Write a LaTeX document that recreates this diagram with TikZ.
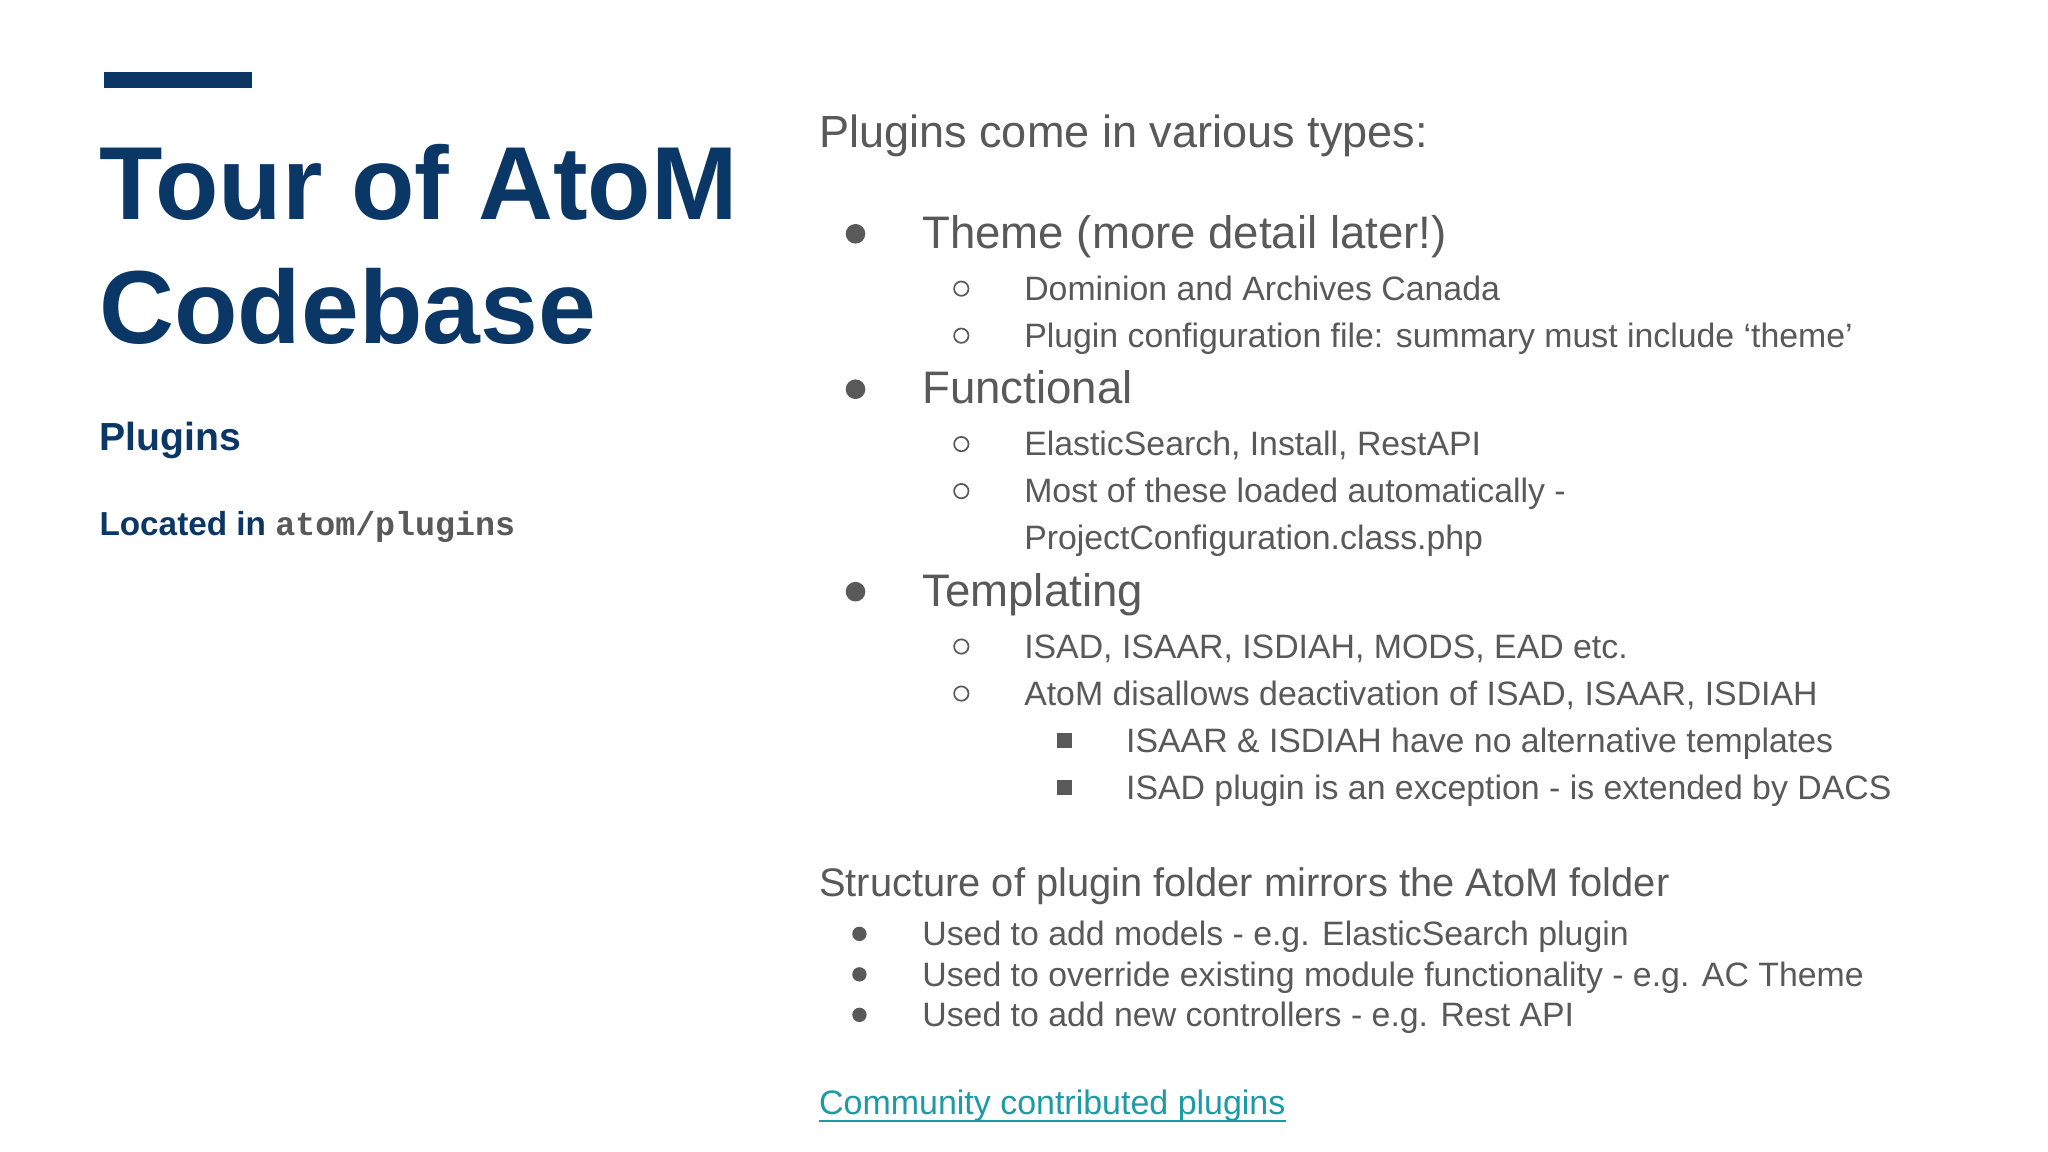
\documentclass[tikz,border=0pt]{standalone}
\usepackage{fontspec}
\setmainfont{Liberation Sans}
\setmonofont{Liberation Mono}
\definecolor{navy}{HTML}{0B3766}
\definecolor{txt}{HTML}{595959}
\definecolor{lnk}{HTML}{1A9BA6}
\begin{document}
\begin{tikzpicture}[x=1pt,y=-1pt,
  t/.style={anchor=base west,inner sep=0,text=txt},
  big/.style={t,font=\fontsize{34.9}{36}\selectfont},
  mid/.style={t,font=\fontsize{30.5}{32}\selectfont},
  sml/.style={t,font=\fontsize{25.9}{28}\selectfont},
  dotb/.style={fill=txt,draw=none},
  ring/.style={draw=txt,line width=1.3pt}]
\useasboundingbox (0,0) rectangle (1568,882);
\fill[white] (0,0) rectangle (1568,882);
\fill[navy] (80,55) rectangle (193,67);
\node[anchor=base west,inner sep=0,text=navy,font=\fontsize{79.5}{90}\bfseries\selectfont] (t1) at (76,168) {Tour of AtoM};
\node[anchor=base west,inner sep=0,text=navy,font=\fontsize{79.5}{90}\bfseries\selectfont] (t2) at (76,263) {Codebase};
\node[anchor=base west,inner sep=0,text=navy,font=\fontsize{30}{30}\bfseries\selectfont] (pl) at (76,345) {Plugins};
\node[anchor=base west,inner sep=0,text=navy,font=\fontsize{25.5}{26}\bfseries\selectfont] (loc) at (76,410) {Located in \textcolor{txt}{\ttfamily\bfseries atom/plugins}};
\node[t,font=\fontsize{34.5}{36}\selectfont] (h1) at (627,113) {Plugins come in various types:};
\node[big] (a) at (706,190) {Theme (more detail later!)};
\node[sml] (a1) at (784,230) {Dominion and Archives Canada};
\node[sml] (a2) at (784,266) {Plugin configuration file: summary must include ‘theme’};
\node[big] (b) at (706,309) {Functional};
\node[sml] (b1) at (784,349) {ElasticSearch, Install, RestAPI};
\node[sml] (b2) at (784,385) {Most of these loaded automatically -};
\node[sml] (b3) at (784,421) {ProjectConfiguration.class.php};
\node[big] (c) at (706,464) {Templating};
\node[sml] (c1) at (784,504) {ISAD, ISAAR, ISDIAH, MODS, EAD etc.};
\node[sml] (c2) at (784,540) {AtoM disallows deactivation of ISAD, ISAAR, ISDIAH};
\node[sml] (c3) at (862,576) {ISAAR \& ISDIAH have no alternative templates};
\node[sml] (c4) at (862,612) {ISAD plugin is an exception - is extended by DACS};
\foreach \y in {190,309,464} \fill[dotb] (655,\y-11) circle (7.5);
\foreach \y in {230,266,349,385,504,540} \draw[ring] (736,\y-9) circle (5.5);
\foreach \y in {576,612} \fill[dotb] (809.5,\y-14.5) rectangle (820.5,\y-3.5);
\node[mid] (h2) at (627,686) {Structure of plugin folder mirrors the AtoM folder};
\node[sml] (d1) at (706,724) {Used to add models - e.g. ElasticSearch plugin};
\node[sml] (d2) at (706,755) {Used to override existing module functionality - e.g. AC Theme};
\node[sml] (d3) at (706,786) {Used to add new controllers - e.g. Rest API};
\foreach \y in {724,755,786} \fill[dotb] (658,\y-9) circle (5.5);
\node[t,text=lnk,font=\fontsize{26}{28}\selectfont] (lk) at (627,853) {Community contributed plugins};
\draw[lnk,line width=1.5pt] (lk.south west) -- (lk.south east);
\end{tikzpicture}
\end{document}
